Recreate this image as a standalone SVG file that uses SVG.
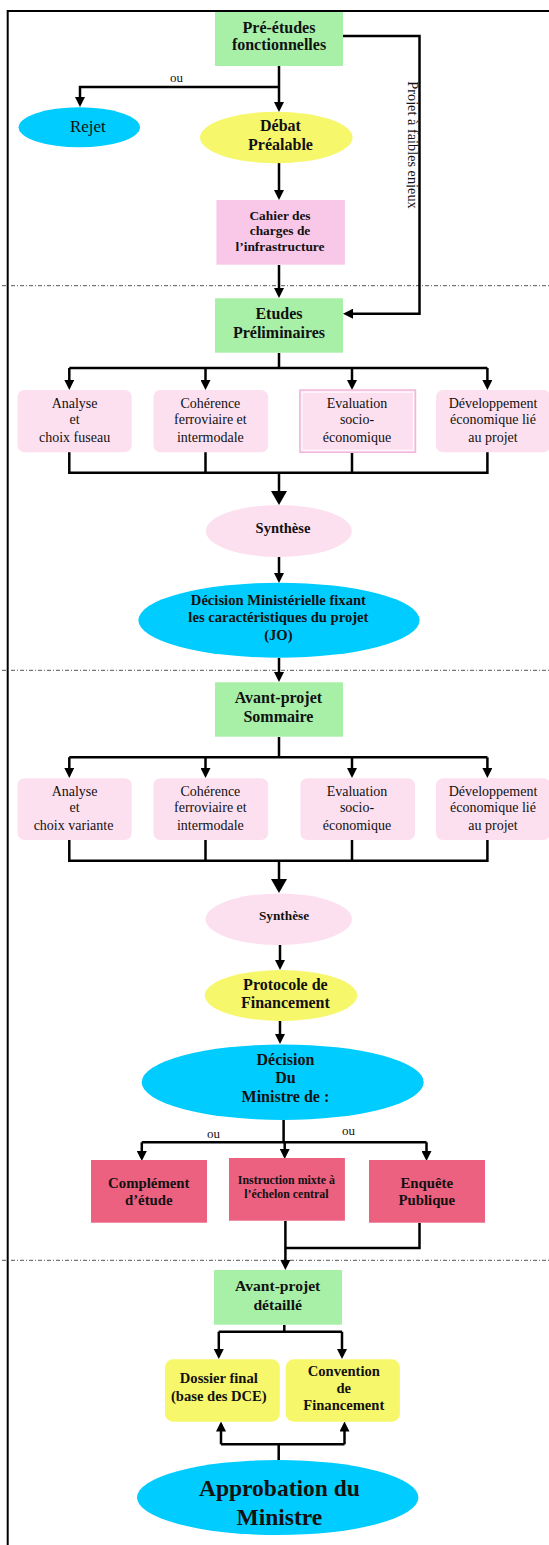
<svg xmlns="http://www.w3.org/2000/svg" width="549" height="1545" viewBox="0 0 549 1545">
<style>
text{font-family:"Liberation Serif","Times New Roman",serif;fill:#111;text-anchor:middle}
.b{font-weight:bold}
.n{font-size:14px}
.green{fill:#a8f0a8}
.yellow{fill:#f7f76b}
.cyan{fill:#00ccff}
.lpink{fill:#fde0f0}
.red{fill:#ec6080}
.ln{fill:none;stroke:#000;stroke-width:2.5}
.arr{marker-end:url(#ah)}
.big{marker-end:url(#bh)}
.dash{fill:none;stroke:#555;stroke-width:1;stroke-dasharray:4 2 1 2}
</style>
<defs>
<marker id="ah" markerUnits="userSpaceOnUse" markerWidth="10" markerHeight="10" refX="7" refY="5" orient="auto"><path d="M0,0 L10,5 L0,10 z" fill="#000"/></marker>
<marker id="bh" markerUnits="userSpaceOnUse" markerWidth="14" markerHeight="16" refX="11" refY="8" orient="auto"><path d="M0,0 L14,8 L0,16 z" fill="#000"/></marker>
<clipPath id="vclip"><rect x="406.5" y="60" width="20" height="170"/></clipPath>
</defs>
<rect width="549" height="1545" fill="#fff"/>
<g id="frame">
<path d="M7.7,1545 V11 H549" fill="none" stroke="#000" stroke-width="2"/>
<line class="dash" x1="2" y1="285.7" x2="549" y2="285.7"/>
<line class="dash" x1="2" y1="670.3" x2="549" y2="670.3"/>
<line class="dash" x1="2" y1="1260.3" x2="549" y2="1260.3"/>
</g>
<g id="connectors">
<path class="ln arr" d="M279,66 V109"/>
<path class="ln arr" d="M279,87 H80 V104"/>
<path class="ln arr" d="M279,163 V197"/>
<path class="ln arr" d="M279,265 V295"/>
<path class="ln arr" d="M343,36 H419.5 V313.7 H346"/>
<path class="ln" d="M279,353 V368 M69.3,368 H487.4"/>
<path class="ln arr" d="M69.3,368 V387"/>
<path class="ln arr" d="M205.5,368 V387"/>
<path class="ln arr" d="M352,368 V387"/>
<path class="ln arr" d="M487.4,368 V387"/>
<path class="ln" d="M69.3,452 V472.7 H487.4 V452 M205.5,452 V472.7 M352,452 V472.7"/>
<path class="ln big" d="M279,472.7 V502"/>
<path class="ln arr" d="M279,557 V580"/>
<path class="ln arr" d="M279,658 V679"/>
<path class="ln" d="M279,737 V757.3 M69.3,757.3 H487.4"/>
<path class="ln arr" d="M69.3,757.3 V775"/>
<path class="ln arr" d="M205.5,757.3 V775"/>
<path class="ln arr" d="M352,757.3 V775"/>
<path class="ln arr" d="M487.4,757.3 V775"/>
<path class="ln" d="M69.3,840 V860.7 H487.4 V840 M205.5,840 V860.7 M352,840 V860.7"/>
<path class="ln big" d="M279,860.7 V890"/>
<path class="ln arr" d="M280,945 V967"/>
<path class="ln arr" d="M280,1021 V1041"/>
<path class="ln" d="M283.6,1120 V1142.3 M141.8,1142.3 H426.5"/>
<path class="ln arr" d="M141.8,1142.3 V1158"/>
<path class="ln arr" d="M284.7,1142.3 V1156"/>
<path class="ln arr" d="M426.5,1142.3 V1158"/>
<path class="ln arr" d="M285.4,1221 V1267"/>
<path class="ln" d="M419.5,1223 V1248 H285.4"/>
<path class="ln" d="M284.3,1325 V1331.7 M218.8,1331.7 H342"/>
<path class="ln arr" d="M218.8,1331.7 V1356"/>
<path class="ln arr" d="M342,1331.7 V1356"/>
<path class="ln" d="M278.7,1460 V1444.3 M221,1444.3 H344.5"/>
<path class="ln arr" d="M221,1444.3 V1424.5"/>
<path class="ln arr" d="M344.5,1444.3 V1424.5"/>
<text x="176.5" y="82" font-size="13">ou</text>
<text x="213.6" y="1137.5" font-size="13">ou</text>
<text x="348.4" y="1135" font-size="13">ou</text>
<g clip-path="url(#vclip)"><text transform="translate(408,145) rotate(90)" font-size="14.3">Projet à faibles enjeux</text></g>
</g>
<g id="pre-etudes">
<rect class="green" x="215" y="12" width="128" height="54"/>
<text class="b" x="279" y="32.5" font-size="16">Pré-études</text>
<text class="b" x="279" y="50" font-size="16">fonctionnelles</text>
</g>
<g id="rejet">
<ellipse class="cyan" cx="79.3" cy="127.3" rx="60.7" ry="20"/>
<text x="87.9" y="131.8" font-size="17">Rejet</text>
</g>
<g id="debat">
<ellipse class="yellow" cx="276.3" cy="137.5" rx="76.3" ry="25.8"/>
<text class="b" x="280.5" y="131" font-size="16">Débat</text>
<text class="b" x="280.5" y="150" font-size="16">Préalable</text>
</g>
<g id="cahier">
<rect fill="#f9c8e8" x="216.4" y="200" width="128.5" height="64.7"/>
<text class="b" x="280" y="219.5" font-size="13.4">Cahier des</text>
<text class="b" x="280" y="234.8" font-size="13.4">charges de</text>
<text class="b" x="280" y="250.5" font-size="13.4">l’infrastructure</text>
</g>
<g id="etudes">
<rect class="green" x="215" y="298.3" width="128" height="54.4"/>
<text class="b" x="279" y="319.3" font-size="16">Etudes</text>
<text class="b" x="279" y="337.6" font-size="16">Préliminaires</text>
</g>
<g id="analyse1">
<rect class="lpink" x="17.5" y="390" width="114.2" height="62.3" rx="7"/>
<text class="n" x="74.6" y="407.7">Analyse</text>
<text class="n" x="74.6" y="424.3">et</text>
<text class="n" x="74.6" y="441.7">choix fuseau</text>
</g>
<g id="coherence1">
<rect class="lpink" x="153.4" y="390" width="114.8" height="62.3" rx="7"/>
<text class="n" x="210.4" y="407.7">Cohérence</text>
<text class="n" x="210.4" y="424.3">ferroviaire et</text>
<text class="n" x="210.4" y="441.7">intermodale</text>
</g>
<g id="evaluation1">
<rect class="lpink" x="299.9" y="390" width="115.6" height="62.3" stroke="#f2b6dc" stroke-width="1.5"/>
<rect x="302" y="392.1" width="111.4" height="58.1" fill="none" stroke="#fff" stroke-width="1"/>
<text class="n" x="357" y="407.7">Evaluation</text>
<text class="n" x="357" y="424.3">socio-</text>
<text class="n" x="357" y="441.7">économique</text>
</g>
<g id="developpement1">
<rect class="lpink" x="436" y="390" width="114.5" height="62.3" rx="7"/>
<text class="n" x="493" y="407.7">Développement</text>
<text class="n" x="493" y="424.3">économique lié</text>
<text class="n" x="493" y="441.7">au projet</text>
</g>
<g id="synthese1">
<ellipse class="lpink" cx="278.8" cy="531" rx="73" ry="26"/>
<text class="b" x="283" y="533.3" font-size="14.5">Synthèse</text>
</g>
<g id="decision-ministerielle">
<ellipse class="cyan" cx="279" cy="620.2" rx="140.6" ry="37.5"/>
<text class="b" x="278.4" y="604.5" font-size="14.6">Décision Ministérielle fixant</text>
<text class="b" x="278.4" y="622" font-size="14.6">les caractéristiques du projet</text>
<text class="b" x="278.4" y="639.5" font-size="14.6">(JO)</text>
</g>
<g id="avant-projet-sommaire">
<rect class="green" x="215" y="682.3" width="128" height="54.4"/>
<text class="b" x="278.4" y="703" font-size="16">Avant-projet</text>
<text class="b" x="278.4" y="721.6" font-size="16">Sommaire</text>
</g>
<g id="analyse2">
<rect class="lpink" x="17.5" y="778.3" width="114.2" height="61.7" rx="7"/>
<text class="n" x="74.6" y="795.7">Analyse</text>
<text class="n" x="74.6" y="812.3">et</text>
<text class="n" x="73.5" y="830">choix variante</text>
</g>
<g id="coherence2">
<rect class="lpink" x="153.4" y="778.3" width="114.8" height="61.7" rx="7"/>
<text class="n" x="210.4" y="795.7">Cohérence</text>
<text class="n" x="210.4" y="812.3">ferroviaire et</text>
<text class="n" x="210.4" y="830">intermodale</text>
</g>
<g id="evaluation2">
<rect class="lpink" x="300.4" y="778.3" width="114.6" height="61.7" rx="7"/>
<text class="n" x="357" y="795.7">Evaluation</text>
<text class="n" x="357" y="812.3">socio-</text>
<text class="n" x="357" y="830">économique</text>
</g>
<g id="developpement2">
<rect class="lpink" x="436" y="778.3" width="114.5" height="61.7" rx="7"/>
<text class="n" x="493" y="795.7">Développement</text>
<text class="n" x="493" y="812.3">économique lié</text>
<text class="n" x="493" y="830">au projet</text>
</g>
<g id="synthese2">
<ellipse class="lpink" cx="278.8" cy="919.2" rx="73.2" ry="25.8"/>
<text class="b" x="284" y="920.3" font-size="13.3">Synthèse</text>
</g>
<g id="protocole">
<ellipse class="yellow" cx="281" cy="995.5" rx="76.2" ry="25.5"/>
<text class="b" x="285.4" y="989.6" font-size="16">Protocole de</text>
<text class="b" x="285.4" y="1008.3" font-size="16">Financement</text>
</g>
<g id="decision-ministre">
<ellipse class="cyan" cx="282.7" cy="1082.2" rx="141" ry="37.8"/>
<text class="b" x="285.4" y="1064.6" font-size="16">Décision</text>
<text class="b" x="285.4" y="1083.3" font-size="16">Du</text>
<text class="b" x="285.4" y="1101.6" font-size="16">Ministre de :</text>
</g>
<g id="complement">
<rect class="red" x="91" y="1160" width="116" height="62.7"/>
<text class="b" x="148.8" y="1187.5" font-size="14.8">Complément</text>
<text class="b" x="148.8" y="1204.5" font-size="14.8">d’étude</text>
</g>
<g id="instruction">
<rect class="red" x="229" y="1158" width="115.9" height="62.7"/>
<text class="b" x="286.4" y="1184.2" font-size="11.9">Instruction mixte à</text>
<text class="b" x="286.4" y="1198.2" font-size="11.9">l’échelon central</text>
</g>
<g id="enquete">
<rect class="red" x="369" y="1160" width="116" height="62.7"/>
<text class="b" x="426.8" y="1187.5" font-size="14.8">Enquête</text>
<text class="b" x="426.8" y="1204.5" font-size="14.8">Publique</text>
</g>
<g id="avant-projet-detaille">
<rect class="green" x="214" y="1270" width="128" height="54.7"/>
<text class="b" x="277.7" y="1290.5" font-size="15.6">Avant-projet</text>
<text class="b" x="277.7" y="1309.5" font-size="15.6">détaillé</text>
</g>
<g id="dossier-final">
<rect class="yellow" x="165" y="1359.3" width="114.8" height="62.4" rx="8"/>
<text class="b" x="218.8" y="1383" font-size="14.6">Dossier final</text>
<text class="b" x="218.8" y="1400.7" font-size="14.6">(base des DCE)</text>
</g>
<g id="convention">
<rect class="yellow" x="285.7" y="1359.3" width="114.2" height="62.4" rx="8"/>
<text class="b" x="343.8" y="1376" font-size="14.6">Convention</text>
<text class="b" x="343.8" y="1393.3" font-size="14.6">de</text>
<text class="b" x="343.8" y="1410.3" font-size="14.6">Financement</text>
</g>
<g id="approbation">
<ellipse class="cyan" cx="277.7" cy="1497.5" rx="140.7" ry="37.5"/>
<text class="b" x="279.4" y="1496" font-size="23.5">Approbation du</text>
<text class="b" x="279.4" y="1524.5" font-size="23.5">Ministre</text>
</g>
</svg>
